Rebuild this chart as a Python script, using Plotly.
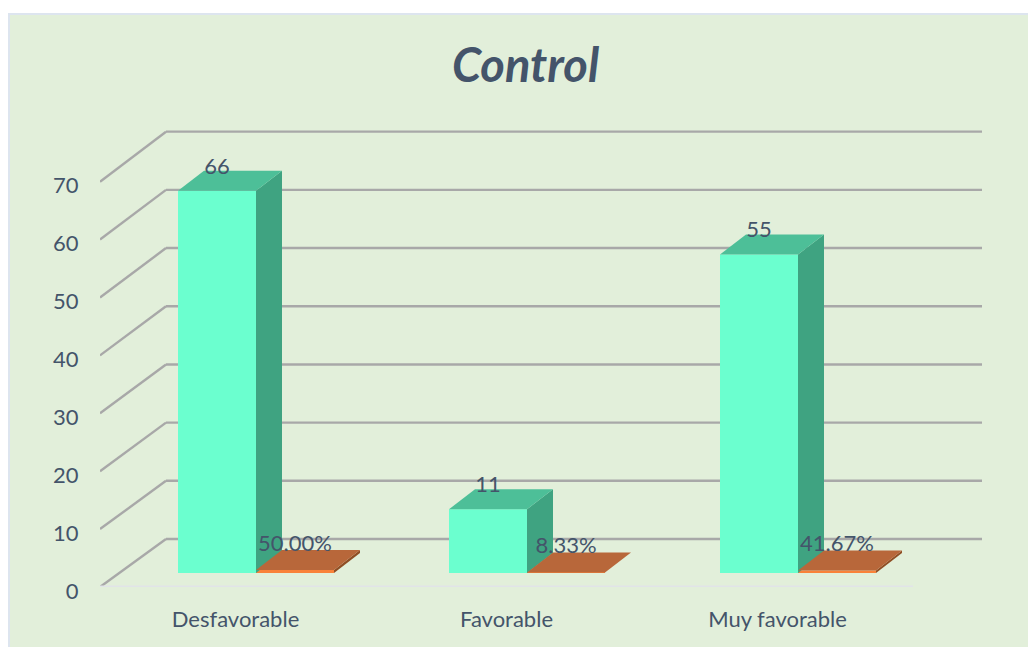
import plotly.graph_objects as go

# Chart content
categories = ["Desfavorable", "Favorable", "Muy favorable"]
counts = [66, 11, 55]
shares = [0.5, 0.0833, 0.4167]
share_labels = ["50.00%", "8.33%", "41.67%"]
y_ticks = [0, 10, 20, 30, 40, 50, 60, 70]

# Palette
BG = "#E2EFDA"
FRAME = "#DDE5EF"
GRID = "#A8A8A8"
FLOOR = "#E1E4E8"
TEXT = "#44546A"
COUNT_FACE, COUNT_SIDE, COUNT_TOP = "#6BFFCF", "#3FA381", "#4DBF98"
SHARE_FACE, SHARE_SIDE, SHARE_TOP = "#F98239", "#8F4E24", "#B8673A"
FONT = "Lato"

# Geometry of the oblique projection, in axis units
W, H = 1028, 647
PLOT_L, PLOT_R, PLOT_T, PLOT_B = 100, 982, 130, 587
PX_X = 271.0            # pixels per category
PX_Y = 5.79             # pixels per count
x_max = (PLOT_R - PLOT_L) / PX_X
y_max = (PLOT_B - PLOT_T) / PX_Y
WALL_DX, WALL_DY = 66 / PX_X, 48 / PX_Y
WALL_SCALE = 1.005      # the back wall is drawn very slightly larger than the front plane
BAR_DX, BAR_DY = 26 / PX_X, 20 / PX_Y
BAR_W = 78 / PX_X
BAR_LEFT = 78 / PX_X
BASE = 14 / PX_Y
COUNT_LABEL_GAP = 3.9
SHARE_LABEL_GAP = 4.3


def face(xs, ys, color):
    return go.Scatter(x=xs, y=ys, mode="lines", fill="toself", fillcolor=color,
                      line=dict(width=0, color=color), hoverinfo="skip", showlegend=False)


def grid_line(x0, y0, x1, y1, color=GRID, width=2.4):
    return dict(type="line", xref="x", yref="y", x0=x0, y0=y0, x1=x1, y1=y1,
                layer="below", line=dict(color=color, width=width))


# Panel background and wall/floor rules sit beneath every bar
shapes = [dict(type="rect", xref="paper", yref="paper", layer="below",
               x0=(9 - PLOT_L) / (PLOT_R - PLOT_L), x1=(W + 4 - PLOT_L) / (PLOT_R - PLOT_L),
               y0=(PLOT_B - H - 4) / (PLOT_B - PLOT_T), y1=(PLOT_B - 14) / (PLOT_B - PLOT_T),
               fillcolor=BG, line=dict(color=FRAME, width=2))]
for v in y_ticks:
    back = v * WALL_SCALE + WALL_DY
    shapes.append(grid_line(0, v, WALL_DX, back))
    shapes.append(grid_line(WALL_DX, back, x_max, back))
shapes.append(grid_line(0, 0, 3, 0, FLOOR, 3))

fig = go.Figure()

positions = [i + BAR_LEFT + BAR_W / 2 for i in range(len(categories))]
share_positions = [p + BAR_W for p in positions]

# Front faces
fig.add_trace(go.Bar(x=positions, y=counts, base=BASE, width=BAR_W,
                     marker=dict(color=COUNT_FACE, line=dict(width=0)),
                     hoverinfo="skip", showlegend=False))
fig.add_trace(go.Bar(x=share_positions, y=shares, base=BASE, width=BAR_W,
                     marker=dict(color=SHARE_FACE, line=dict(width=0)),
                     hoverinfo="skip", showlegend=False))

# Side and top faces, counts first so the thin slabs overlap them
for series, centres, side, top in ((counts, positions, COUNT_SIDE, COUNT_TOP),
                                   (shares, share_positions, SHARE_SIDE, SHARE_TOP)):
    for value, c in zip(series, centres):
        x0, x1 = c - BAR_W / 2, c + BAR_W / 2
        y0, y1 = BASE, BASE + value
        fig.add_trace(face([x1, x1 + BAR_DX, x1 + BAR_DX, x1, x1],
                           [y0, y0 + BAR_DY, y1 + BAR_DY, y1, y0], side))
        fig.add_trace(face([x0, x1, x1 + BAR_DX, x0 + BAR_DX, x0],
                           [y1, y1, y1 + BAR_DY, y1 + BAR_DY, y1], top))

# Value labels
fig.add_trace(go.Scatter(x=positions, y=[BASE + v + COUNT_LABEL_GAP for v in counts],
                         mode="text", text=[str(v) for v in counts],
                         textposition="middle center", textfont=dict(size=22, color=TEXT, family=FONT),
                         hoverinfo="skip", showlegend=False, cliponaxis=False))
fig.add_trace(go.Scatter(x=share_positions, y=[BASE + v + SHARE_LABEL_GAP for v in shares],
                         mode="text", text=share_labels,
                         textposition="middle center", textfont=dict(size=22, color=TEXT, family=FONT),
                         hoverinfo="skip", showlegend=False, cliponaxis=False))

fig.update_layout(
    width=W, height=H, autosize=False,
    margin=dict(l=PLOT_L, r=W - PLOT_R, t=PLOT_T, b=H - PLOT_B, pad=0, autoexpand=False),
    paper_bgcolor="white", plot_bgcolor="rgba(0,0,0,0)",
    shapes=shapes, barmode="overlay", showlegend=False,
    font=dict(family=FONT, color=TEXT),
    annotations=[dict(text="<b><i>Control</i></b>", xref="paper", yref="paper",
                      x=(525 - PLOT_L) / (PLOT_R - PLOT_L), y=(PLOT_B - 64) / (PLOT_B - PLOT_T),
                      xanchor="center", yanchor="middle", showarrow=False,
                      font=dict(size=47, color=TEXT, family=FONT))],
    xaxis=dict(range=[0, x_max], showgrid=False, zeroline=False, showline=False, automargin=False,
               tickmode="array", tickvals=[i + 0.5 for i in range(len(categories))], ticktext=categories,
               ticks="outside", ticklen=13, tickcolor="rgba(0,0,0,0)",
               tickfont=dict(size=22, color=TEXT, family=FONT)),
    yaxis=dict(range=[0, y_max], showgrid=False, zeroline=False, showline=False, automargin=False,
               tickmode="array", tickvals=y_ticks, ticks="outside", ticklen=16,
               tickcolor="rgba(0,0,0,0)", ticklabelshift=4,
               tickfont=dict(size=22, color=TEXT, family=FONT)),
)

fig.write_html("out.html", config=dict(displayModeBar=False))
